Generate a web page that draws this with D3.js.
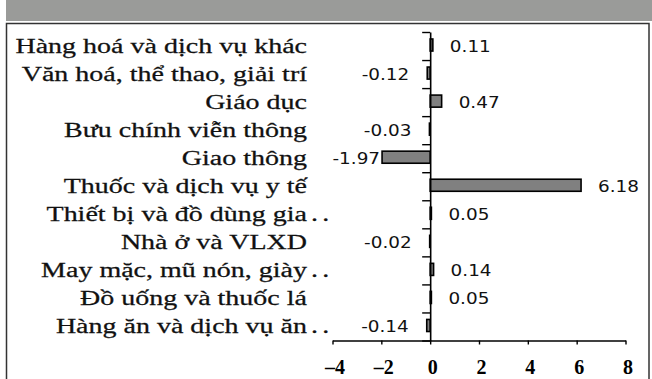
<!DOCTYPE html>
<html><head><meta charset="utf-8">
<script src="https://cdn.jsdelivr.net/npm/d3@7/dist/d3.min.js"></script>
<style>body{margin:0;background:#fff}svg{display:block}</style>
</head><body>
<svg id="c" width="652" height="379"></svg>
<script>
const categories = [
  "Hàng hoá và dịch vụ khác",
  "Văn hoá, thể thao, giải trí",
  "Giáo dục",
  "Bưu chính viễn thông",
  "Giao thông",
  "Thuốc và dịch vụ y tế",
  "Thiết bị và đồ dùng gia ..",
  "Nhà ở và VLXD",
  "May mặc, mũ nón, giày ..",
  "Đồ uống và thuốc lá",
  "Hàng ăn và dịch vụ ăn .."
];
const values = [0.11, -0.12, 0.47, -0.03, -1.97, 6.18, 0.05, -0.02, 0.14, 0.05, -0.14];
const valueLabels = ["0.11","-0.12","0.47","-0.03","-1.97","6.18","0.05","-0.02","0.14","0.05","-0.14"];
const xTicks = [-4, -2, 0, 2, 4, 6, 8];
const xTickLabels = ["–4","–2","0","2","4","6","8"];

(function(){
const svg = d3.select("#c");
svg.append("rect").attr("x",6).attr("y",0).attr("width",646).attr("height",21).attr("fill","#9a9b99");
svg.append("rect").attr("x",6.5).attr("y",23.5).attr("width",642.5).attr("height",370)
  .attr("fill","none").attr("stroke","#333").attr("stroke-width",1.5);

const plotTop = 32, plotBottom = 340.5;
const x = d3.scaleLinear().domain([-4, 8]).range([332.5, 625.5]);
const y = d3.scaleBand().domain(categories).range([plotTop, plotBottom]).paddingInner(0.57).paddingOuter(0.285);
const yb = d3.scaleLinear().domain([0, categories.length]).range([plotTop, plotBottom]);

svg.append("g").selectAll("rect").data(values).join("rect")
  .attr("x", d => x(Math.min(0, d)))
  .attr("y", (d,i) => y(categories[i]) - 1)
  .attr("width", d => Math.abs(x(d) - x(0)))
  .attr("height", y.bandwidth())
  .attr("fill", "#808080").attr("stroke", "#000").attr("stroke-width", 1.6);

const ya = svg.append("g").attr("transform", `translate(${x(0)},0)`)
  .call(d3.axisLeft(yb).tickValues(d3.range(categories.length + 1)).tickFormat("").tickSize(8).tickSizeOuter(0));
ya.select(".domain").attr("stroke","#000").attr("stroke-width",1.6);
ya.selectAll(".tick line").attr("stroke","#000").attr("stroke-width",1.4);

const xa = svg.append("g").attr("transform", `translate(0,${plotBottom})`)
  .call(d3.axisBottom(x).tickValues(xTicks).tickFormat((d,i) => xTickLabels[i]).tickSize(4).tickSizeOuter(0));
xa.select(".domain").attr("stroke","#000").attr("stroke-width",1.6);
xa.selectAll(".tick line").attr("stroke","#000").attr("stroke-width",1.4);
xa.selectAll(".tick text").attr("y", 0).attr("dy", 0)
  .attr("transform", "translate(2,33)")
  .attr("font-family", "'Liberation Serif', 'Times New Roman', serif")
  .attr("font-weight", "bold").attr("font-size", 20).attr("fill", "#000");

const serif = "'Liberation Serif', 'Times New Roman', serif";
const sx = 1.40;
const cl = svg.append("g");
categories.forEach((c, i) => {
  const trunc = / \.\.$/.test(c);
  const main = c.replace(/ \.\.$/, "");
  const cy = y(c) + y.bandwidth() / 2 + 7;
  cl.append("text").attr("transform", `translate(307,${cy}) scale(${sx},1)`)
    .attr("text-anchor", "end").attr("font-family", serif).attr("font-size", 20)
    .attr("fill", "#111").attr("stroke", "#111").attr("stroke-width", 0.25).text(main);
  if (trunc) {
    cl.append("text").attr("transform", `translate(311,${cy}) scale(${sx},1)`)
      .attr("font-family", serif).attr("font-size", 20).attr("letter-spacing", 3)
      .attr("fill", "#111").attr("stroke", "#111").attr("stroke-width", 0.25).text("..");
  }
});

const sans = "'DejaVu Sans', Verdana, sans-serif";
const vl = svg.append("g");
values.forEach((v, i) => {
  const cy = y(categories[i]) + y.bandwidth() / 2 + 5.5;
  const pos = v >= 0;
  const off = pos ? 17 : (v < -1 ? -2 : -18);
  vl.append("text").attr("transform", `translate(${x(v) + off},${cy}) scale(1.15,1)`)
    .attr("text-anchor", pos ? "start" : "end")
    .attr("font-family", sans).attr("font-size", 16).attr("fill", "#111")
    .text(valueLabels[i]);
});
})();
</script>
</body></html>
